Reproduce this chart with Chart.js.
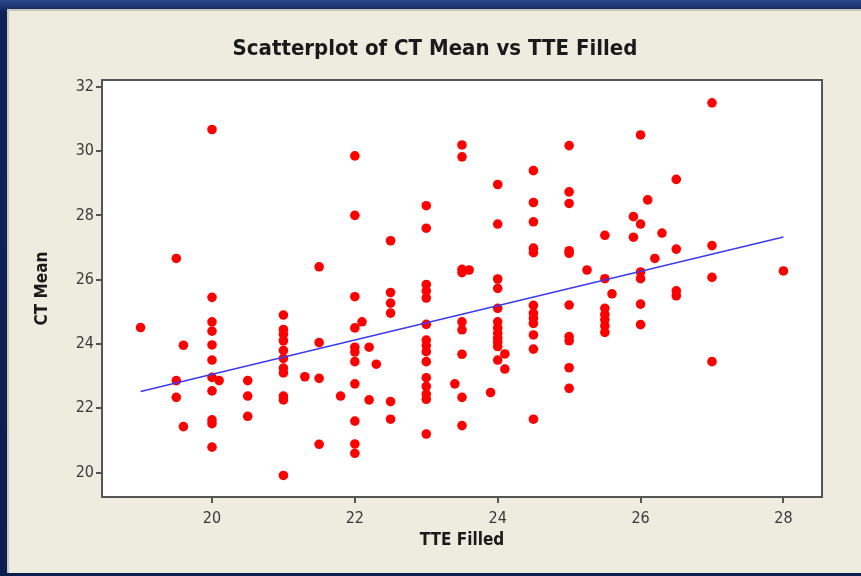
<!DOCTYPE html>
<html>
<head>
<meta charset="utf-8">
<script src="https://cdn.jsdelivr.net/npm/chart.js@4"></script>
<style>
  html, body { margin: 0; padding: 0; width: 861px; height: 576px; overflow: hidden; }
  body { background: linear-gradient(#2a4a8c, #0e2458 12px, #0b1f4e); position: relative; }
  .painel {
    position: absolute; left: 7px; top: 9px; right: 0; bottom: 3px;
    background: #eeebdf; border-top: 2px solid #c9c6bb; border-left: 2px solid #c9c6bb;
  }
  canvas { position: absolute; left: 0; top: 0; }
</style>
</head>
<body>
<div class="painel"></div>
<canvas id="grafico" width="861" height="576"></canvas>
<script>
// valores (TTE Filled x CT Mean)
var tteFilled = [
  19,
  19.5, 19.5, 19.5,
  19.6, 19.6,
  20, 20, 20, 20, 20, 20, 20, 20, 20, 20, 20,
  20.1,
  20.5, 20.5, 20.5,
  21, 21, 21, 21, 21, 21, 21, 21, 21, 21, 21,
  21.3,
  21.5, 21.5, 21.5, 21.5,
  21.8,
  22, 22, 22, 22, 22, 22, 22, 22, 22, 22, 22,
  22.1,
  22.2, 22.2,
  22.3,
  22.5, 22.5, 22.5, 22.5, 22.5, 22.5,
  23, 23, 23, 23, 23, 23, 23, 23, 23, 23, 23, 23, 23, 23, 23,
  23.4,
  23.5, 23.5, 23.5, 23.5, 23.5, 23.5, 23.5, 23.5, 23.5,
  23.6,
  23.9,
  24, 24, 24, 24, 24, 24, 24, 24, 24, 24, 24, 24,
  24.1, 24.1,
  24.5, 24.5, 24.5, 24.5, 24.5, 24.5, 24.5, 24.5, 24.5, 24.5, 24.5, 24.5,
  25, 25, 25, 25, 25, 25, 25, 25, 25, 25,
  25.25,
  25.5, 25.5, 25.5, 25.5, 25.5, 25.5, 25.5,
  25.6,
  25.9, 25.9,
  26, 26, 26, 26, 26, 26,
  26.1,
  26.2,
  26.3,
  26.5, 26.5, 26.5, 26.5,
  27, 27, 27, 27,
  28
];
var ctMean = [
  24.51,
  26.66, 22.86, 22.34,
  23.96, 21.43,
  30.67, 25.45, 24.69, 24.40, 23.97, 23.50, 22.96, 22.54, 21.64, 21.52, 20.79,
  22.86,
  22.86, 22.38, 21.75,
  24.90, 24.45, 24.30, 24.10, 23.80, 23.55, 23.25, 23.10, 22.38, 22.26, 19.91,
  22.98,
  26.40, 24.04, 22.93, 20.88,
  22.38,
  29.85, 28.00, 25.47, 24.50, 23.90, 23.75, 23.45, 22.76, 21.60, 20.89, 20.60,
  24.69,
  23.90, 22.26,
  23.37,
  27.21, 25.60, 25.27, 24.96, 22.21, 21.66,
  28.30, 27.60, 25.85, 25.65, 25.43, 24.61, 24.12, 23.95, 23.76, 23.45, 22.95, 22.68, 22.44, 22.28, 21.20,
  22.76,
  30.19, 29.82, 26.22, 26.32, 24.69, 24.44, 23.68, 22.34, 21.46,
  26.30,
  22.49,
  28.96, 27.73, 26.02, 25.73, 25.11, 24.69, 24.50, 24.33, 24.18, 24.05, 23.92, 23.50,
  23.69, 23.22,
  29.39, 28.40, 27.80, 26.98, 26.84, 25.20, 24.96, 24.80, 24.64, 24.28, 23.84, 21.66,
  30.17, 28.73, 28.37, 26.90, 26.82, 25.21, 24.23, 24.10, 23.26, 22.62,
  26.30,
  27.38, 26.03, 25.11, 24.92, 24.75, 24.56, 24.36,
  25.56,
  27.96, 27.32,
  30.50, 27.73, 26.24, 26.03, 25.24, 24.60,
  28.48,
  26.66,
  27.45,
  29.12, 26.95, 25.65, 25.50,
  31.50, 27.06, 26.07, 23.45,
  26.27
];
// reta de ajuste (extremos)
var ajusteX = [19, 28];
var ajusteY = [22.52, 27.33];
var ticksX = [20, 22, 24, 26, 28];
var ticksY = [20, 22, 24, 26, 28, 30, 32];

var fonte = '"Liberation Sans Narrow", "DejaVu Sans Condensed", "Liberation Sans", sans-serif';

var moldura = {
  id: 'moldura',
  beforeDraw: function (chart) {
    var a = chart.chartArea, ctx = chart.ctx;
    ctx.save();
    ctx.fillStyle = '#ffffff';
    ctx.fillRect(a.left, a.top, a.right - a.left, a.bottom - a.top);
    ctx.restore();
  },
  afterDraw: function (chart) {
    var a = chart.chartArea, ctx = chart.ctx;
    ctx.save();
    ctx.strokeStyle = '#555555';
    ctx.lineWidth = 2;
    ctx.strokeRect(a.left, a.top, a.right - a.left, a.bottom - a.top);
    ctx.restore();
  }
};

function fixarTicks(lista) {
  return function (eixo) { eixo.ticks = lista.map(function (v) { return { value: v }; }); };
}

new Chart(document.getElementById('grafico'), {
  type: 'scatter',
  data: {
    datasets: [{
      label: 'CT Mean',
      data: tteFilled.map(function (x, i) { return { x: x, y: ctMean[i] }; }),
      backgroundColor: '#ff0000',
      borderColor: '#ff0000',
      borderWidth: 0,
      pointRadius: 4.8,
      pointHoverRadius: 4.8,
      order: 2
    }, {
      type: 'line',
      label: 'Ajuste',
      data: ajusteX.map(function (x, i) { return { x: x, y: ajusteY[i] }; }),
      borderColor: '#3b3bf0',
      borderWidth: 1.5,
      pointRadius: 0,
      fill: false,
      order: 1
    }]
  },
  options: {
    responsive: false,
    animation: false,
    layout: { padding: { left: 9, right: 0, top: 0, bottom: 0 } },
    plugins: {
      legend: { display: false },
      tooltip: { enabled: false },
      title: {
        display: true,
        text: 'Scatterplot of CT Mean vs TTE Filled',
        color: '#1a1a1a',
        font: { family: fonte, size: 22, weight: 'bold', lineHeight: 1.2 },
        padding: { top: 36, bottom: 17.6 }
      }
    },
    scales: {
      x: {
        type: 'linear',
        min: 18.46, max: 28.54,
        afterBuildTicks: fixarTicks(ticksX),
        afterFit: function (e) { e.height = 79; },
        grid: { drawOnChartArea: false, drawTicks: true, tickLength: 6, color: '#555555', lineWidth: 2 },
        border: { display: false },
        ticks: { color: '#3a3a3a', padding: 6, font: { family: fonte, size: 16 } },
        title: {
          display: true, text: 'TTE Filled', color: '#1a1a1a',
          font: { family: fonte, size: 17, weight: 'bold', lineHeight: 1.2 },
          padding: { top: 0, bottom: 25 }
        }
      },
      y: {
        type: 'linear',
        min: 19.24, max: 32.21,
        afterBuildTicks: fixarTicks(ticksY),
        afterFit: function (e) { e.width = 93; },
        grid: { drawOnChartArea: false, drawTicks: true, tickLength: 6, color: '#555555', lineWidth: 2 },
        border: { display: false },
        ticks: { color: '#3a3a3a', padding: 2, font: { family: fonte, size: 16 } },
        title: {
          display: true, text: 'CT Mean', color: '#1a1a1a',
          font: { family: fonte, size: 17, weight: 'bold', lineHeight: 1.2 },
          padding: { top: 23, bottom: 0 }
        }
      },
      direita: {
        type: 'linear', position: 'right', display: true,
        afterFit: function (e) { e.width = 39; },
        grid: { display: false },
        border: { display: false },
        ticks: { display: false },
        title: { display: false }
      }
    }
  },
  plugins: [moldura]
});
</script>
</body>
</html>
